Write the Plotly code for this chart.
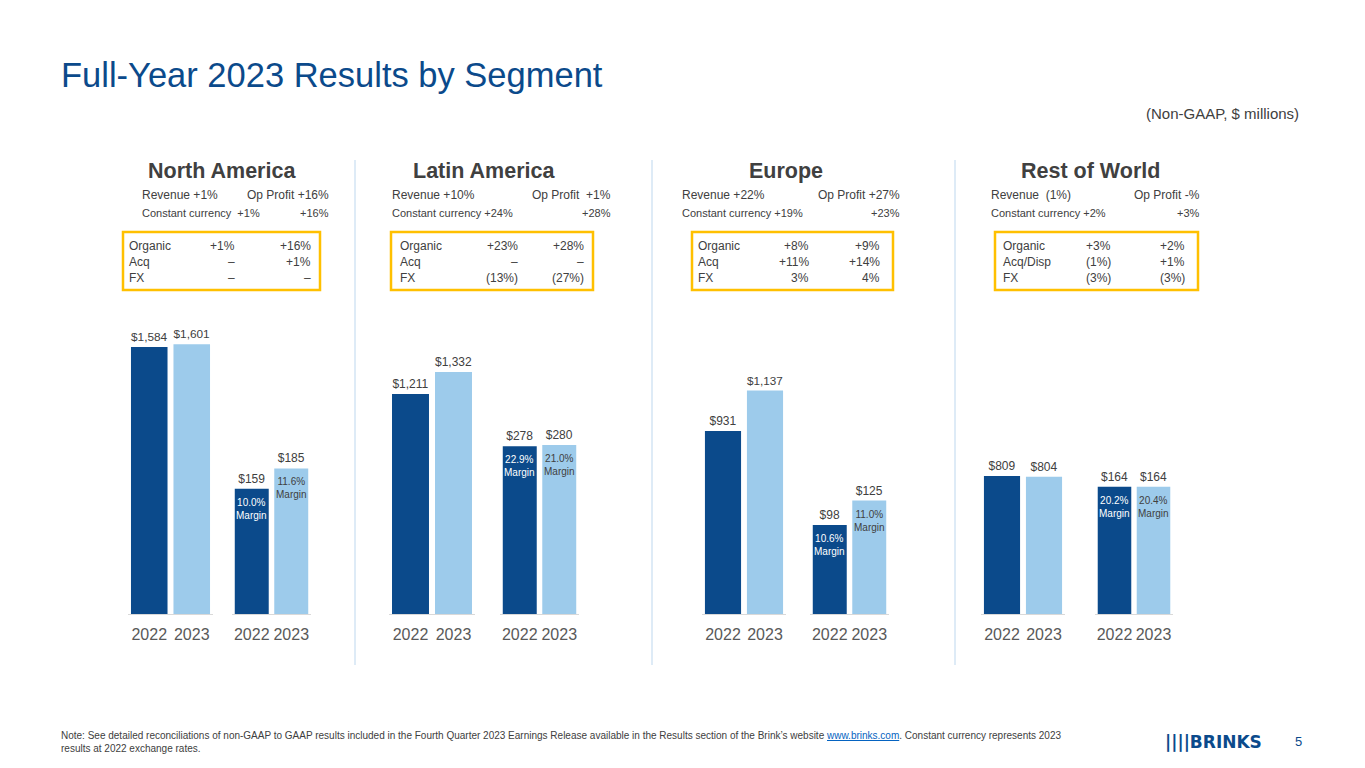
import plotly.graph_objects as go

W, H = 1365, 768
segments = ["North America", "Latin America", "Europe", "Rest of World"]
years = ["2022", "2023"]
revenue = [[1584, 1601], [1211, 1332], [931, 1137], [809, 804]]
op_profit = [[159, 185], [278, 280], [98, 125], [164, 164]]
margins = [["10.0%", "11.6%"], ["22.9%", "21.0%"], ["10.6%", "11.0%"], ["20.2%", "20.4%"]]
rev_line = [("Revenue +1%", "Op Profit +16%"), ("Revenue +10%", "Op Profit  +1%"),
            ("Revenue +22%", "Op Profit +27%"), ("Revenue  (1%)", "Op Profit -%")]
cc_line = [("Constant currency  +1%", "+16%"), ("Constant currency +24%", "+28%"),
           ("Constant currency +19%", "+23%"), ("Constant currency +2%", "+3%")]
box_rows = [
    [("Organic", "+1%", "+16%"), ("Acq", "–", "+1%"), ("FX", "–", "–")],
    [("Organic", "+23%", "+28%"), ("Acq", "–", "–"), ("FX", "(13%)", "(27%)")],
    [("Organic", "+8%", "+9%"), ("Acq", "+11%", "+14%"), ("FX", "3%", "4%")],
    [("Organic", "+3%", "+2%"), ("Acq/Disp", "(1%)", "+1%"), ("FX", "(3%)", "(3%)")],
]

DARK, LIGHT = "#0B4A8B", "#9DCBEB"
rev_dom = [(128, 213), (389, 475), (702, 786), (981, 1065)]
op_dom = [(232, 311), (500, 579), (810, 889), (1095, 1173)]
rev_max = [1863, 1728, 1597, 1841]
op_max = [399, 520, 346, 405]
header_x = [222, 484, 786, 1090]
rl = [141, 391, 681, 990]
rr = [330, 612, 901, 1201]
bx = [(123, 320), (391, 593), (692, 893), (995, 1198)]
bcol = [(128, 236, 312), (399, 519, 585), (697, 810, 881), (1002, 1112, 1186)]

OFF = 8  # page body margin
px = lambda x: (x - OFF) / W
py = lambda y: 1 - (y - OFF) / H
plot_bottom, plot_top = 614, 300

fig = go.Figure()
layout = dict(width=W, height=H, margin=dict(l=0, r=0, t=0, b=0, autoexpand=False), showlegend=False,
              plot_bgcolor="white", paper_bgcolor="white",
              font=dict(family="Arial, Liberation Sans", color="#404040"))
ann, shapes = [], []


def txt(x, y, text, size, anchor="left", color="#404040", **kw):
    d = dict(x=px(x), y=py(y), xref="paper", yref="paper", xanchor=anchor, yanchor="middle",
             text=text, showarrow=False, font=dict(size=size, color=color), borderpad=0)
    d.update(kw)
    ann.append(d)


k = 0
for i in range(4):
    for kind, vals, dom, ymax in (("rev", revenue[i], rev_dom[i], rev_max[i]),
                                  ("op", op_profit[i], op_dom[i], op_max[i])):
        k += 1
        xa = "x" if k == 1 else f"x{k}"
        ya = "y" if k == 1 else f"y{k}"
        fig.add_trace(go.Bar(x=[0, 1], y=vals, xaxis=xa, yaxis=ya, width=0.86,
                             marker=dict(color=[DARK, LIGHT], line=dict(width=0)),
                             text=[f"${v:,}" for v in vals], textposition="outside",
                             textfont=dict(size=12, color="#404040"), cliponaxis=False))
        layout["xaxis" if k == 1 else f"xaxis{k}"] = dict(
            domain=[px(dom[0]), px(dom[1])], anchor=ya, showline=True, linecolor="#d9d9d9",
            range=[-0.5, 1.5], tickmode="array", tickvals=[0, 1], ticktext=years,
            ticks="", showgrid=False, zeroline=False, ticklabelstandoff=6,
            tickfont=dict(size=16, color="#595959"), fixedrange=True)
        layout["yaxis" if k == 1 else f"yaxis{k}"] = dict(
            domain=[py(plot_bottom), py(plot_top)], anchor=xa, range=[0, ymax],
            visible=False, showgrid=False)
        if kind == "op":
            for j in range(2):
                ann.append(dict(x=j, y=vals[j], xref=xa, yref=ya, yanchor="top", yshift=-6,
                                text=f"{margins[i][j]}<br>Margin", showarrow=False,
                                font=dict(size=10, color="white" if j == 0 else "#404040")))
    txt(header_x[i], 171, f"<b>{segments[i]}</b>", 21.5, "center")
    txt(rl[i], 195, rev_line[i][0], 12)
    txt(rr[i], 195, rev_line[i][1], 12, "right")
    txt(rl[i], 213, cc_line[i][0], 11)
    txt(rr[i], 213, cc_line[i][1], 11, "right")
    shapes.append(dict(type="rect", xref="paper", yref="paper", x0=px(bx[i][0]), x1=px(bx[i][1]),
                       y0=py(290), y1=py(232), line=dict(color="#FFC000", width=2.5)))
    for r, row in enumerate(box_rows[i]):
        yy = 246 + 16 * r
        txt(bcol[i][0], yy, row[0], 12)
        txt(bcol[i][1], yy, row[1], 12, "right")
        txt(bcol[i][2], yy, row[2], 12, "right")

for sx in (355, 652, 955):
    shapes.append(dict(type="line", xref="paper", yref="paper", x0=px(sx), x1=px(sx), y0=py(665), y1=py(160),
                       line=dict(color="#BDD7EE", width=1)))

txt(60, 75, "Full-Year 2023 Results by Segment", 34.5, color="#0B4A8B")
txt(1300, 113, "(Non-GAAP, $ millions)", 15, "right")
txt(60, 742, "Note: See detailed reconciliations of non-GAAP to GAAP results included in the Fourth Quarter 2023 Earnings Release available in the Results section of the Brink’s website "
             "<span style='color:#0563C1'><u>www.brinks.com</u></span>. Constant currency represents 2023<br>results at 2022 exchange rates.",
    10, align="left")
txt(1298, 741, "5", 13, "center", color="#0B4A8B")
ann.append(dict(x=px(1213), y=py(742), xref="paper", yref="paper", xanchor="center", yanchor="middle",
                showarrow=False, text="<b>||||BRINKS</b>",
                font=dict(size=17, color="#0B4A8B", family="Arial Black, DejaVu Sans")))
layout["annotations"] = ann
layout["shapes"] = shapes
fig.update_layout(**layout)
fig.write_html("out.html")
